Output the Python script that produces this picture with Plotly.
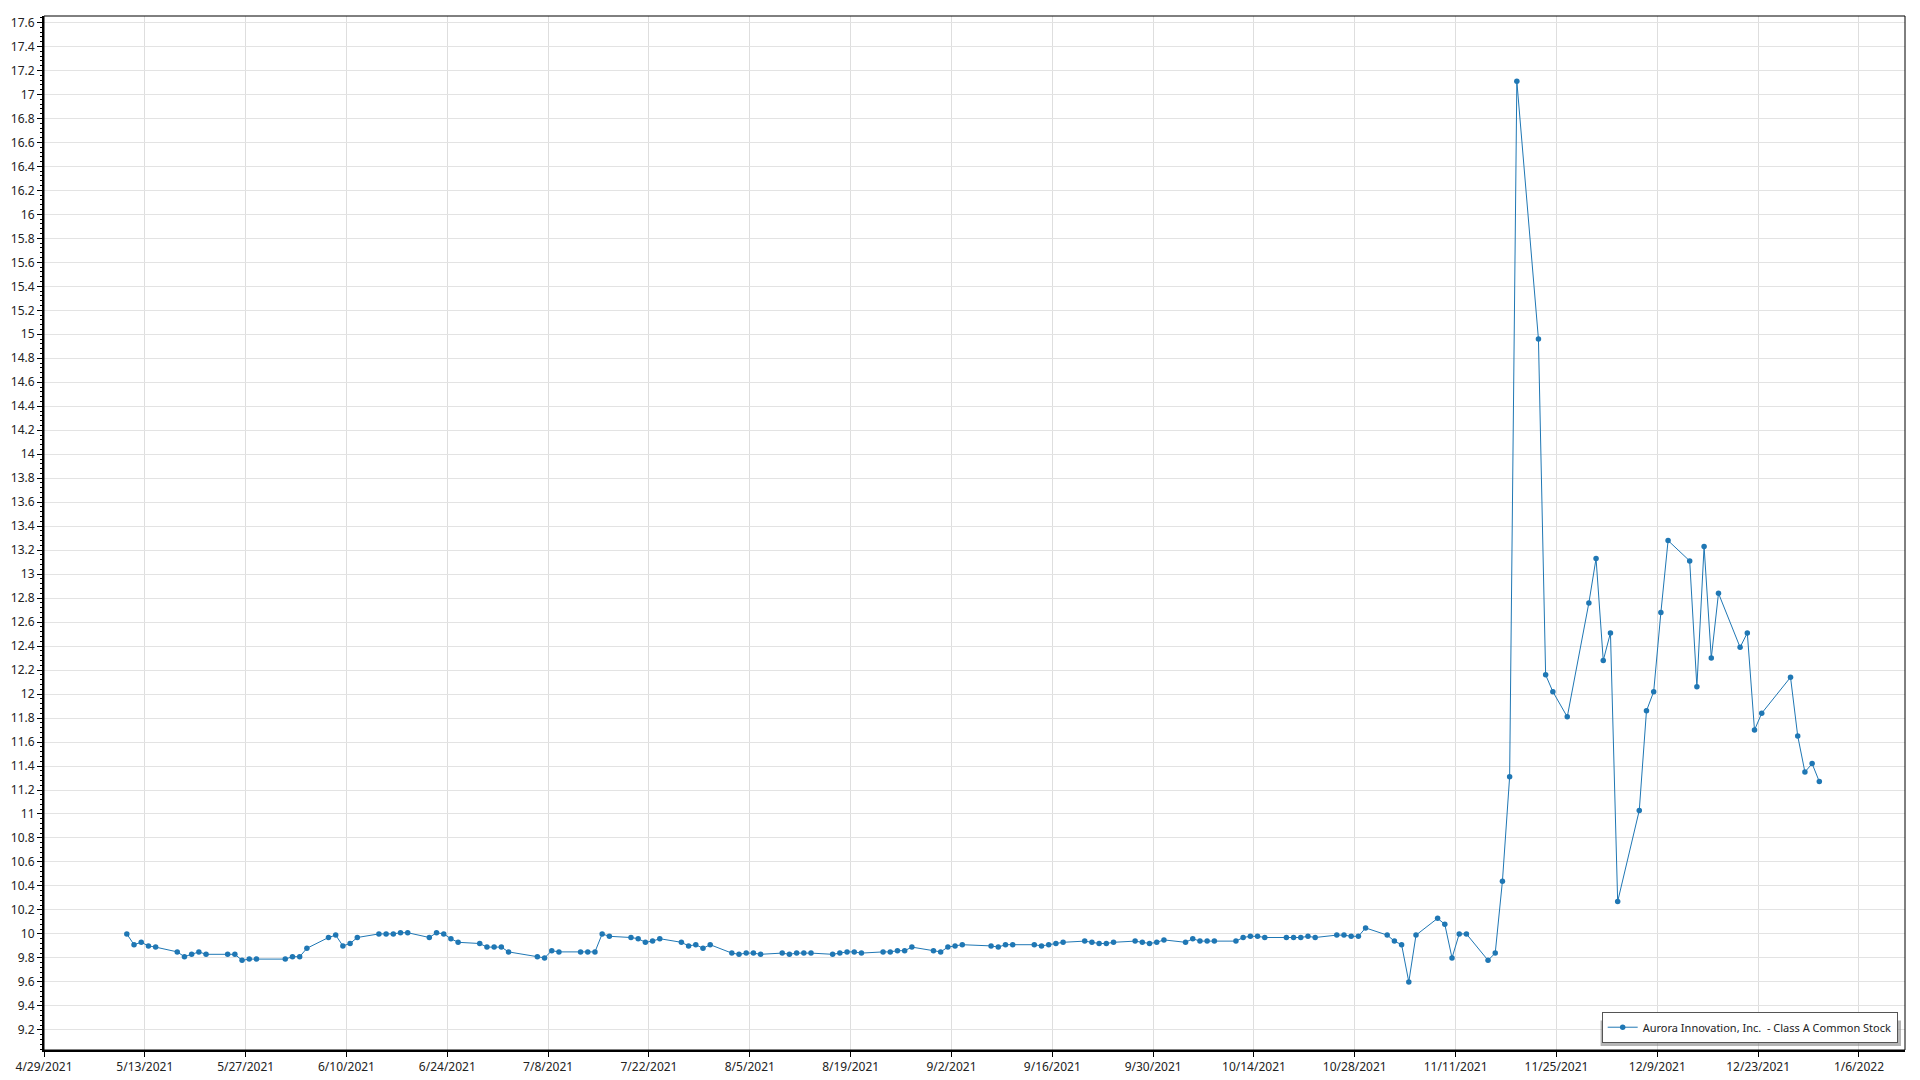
import pandas as pd
import plotly.graph_objects as go

series_name = "Aurora Innovation, Inc.  - Class A Common Stock"

dates = [
    "2021-05-10", "2021-05-11", "2021-05-12", "2021-05-13", "2021-05-14",
    "2021-05-17", "2021-05-18", "2021-05-19", "2021-05-20", "2021-05-21",
    "2021-05-24", "2021-05-25", "2021-05-26", "2021-05-27", "2021-05-28",
    "2021-06-01", "2021-06-02", "2021-06-03", "2021-06-04",
    "2021-06-07", "2021-06-08", "2021-06-09", "2021-06-10", "2021-06-11",
    "2021-06-14", "2021-06-15", "2021-06-16", "2021-06-17", "2021-06-18",
    "2021-06-21", "2021-06-22", "2021-06-23", "2021-06-24", "2021-06-25",
    "2021-06-28", "2021-06-29", "2021-06-30", "2021-07-01", "2021-07-02",
    "2021-07-06", "2021-07-07", "2021-07-08", "2021-07-09",
    "2021-07-12", "2021-07-13", "2021-07-14", "2021-07-15", "2021-07-16",
    "2021-07-19", "2021-07-20", "2021-07-21", "2021-07-22", "2021-07-23",
    "2021-07-26", "2021-07-27", "2021-07-28", "2021-07-29", "2021-07-30",
    "2021-08-02", "2021-08-03", "2021-08-04", "2021-08-05", "2021-08-06",
    "2021-08-09", "2021-08-10", "2021-08-11", "2021-08-12", "2021-08-13",
    "2021-08-16", "2021-08-17", "2021-08-18", "2021-08-19", "2021-08-20",
    "2021-08-23", "2021-08-24", "2021-08-25", "2021-08-26", "2021-08-27",
    "2021-08-30", "2021-08-31", "2021-09-01", "2021-09-02", "2021-09-03",
    "2021-09-07", "2021-09-08", "2021-09-09", "2021-09-10",
    "2021-09-13", "2021-09-14", "2021-09-15", "2021-09-16", "2021-09-17",
    "2021-09-20", "2021-09-21", "2021-09-22", "2021-09-23", "2021-09-24",
    "2021-09-27", "2021-09-28", "2021-09-29", "2021-09-30", "2021-10-01",
    "2021-10-04", "2021-10-05", "2021-10-06", "2021-10-07", "2021-10-08",
    "2021-10-11", "2021-10-12", "2021-10-13", "2021-10-14", "2021-10-15",
    "2021-10-18", "2021-10-19", "2021-10-20", "2021-10-21", "2021-10-22",
    "2021-10-25", "2021-10-26", "2021-10-27", "2021-10-28", "2021-10-29",
    "2021-11-01", "2021-11-02", "2021-11-03", "2021-11-04", "2021-11-05",
    "2021-11-08", "2021-11-09", "2021-11-10", "2021-11-11", "2021-11-12",
    "2021-11-15", "2021-11-16", "2021-11-17", "2021-11-18", "2021-11-19",
    "2021-11-22", "2021-11-23", "2021-11-24", "2021-11-26",
    "2021-11-29", "2021-11-30", "2021-12-01", "2021-12-02", "2021-12-03",
    "2021-12-06", "2021-12-07", "2021-12-08", "2021-12-09", "2021-12-10",
    "2021-12-13", "2021-12-14", "2021-12-15", "2021-12-16", "2021-12-17",
    "2021-12-20", "2021-12-21", "2021-12-22", "2021-12-23",
    "2021-12-27", "2021-12-28", "2021-12-29", "2021-12-30", "2021-12-31",
]

prices = [
    10.00, 9.91, 9.93, 9.90, 9.89,
    9.85, 9.81, 9.83, 9.85, 9.83,
    9.83, 9.83, 9.78, 9.79, 9.79,
    9.79, 9.81, 9.81, 9.88,
    9.97, 9.99, 9.90, 9.92, 9.97,
    10.00, 10.00, 10.00, 10.01, 10.01,
    9.97, 10.01, 10.00, 9.96, 9.93,
    9.92, 9.89, 9.89, 9.89, 9.85,
    9.81, 9.80, 9.86, 9.85,
    9.85, 9.85, 9.85, 10.00, 9.98,
    9.97, 9.96, 9.93, 9.94, 9.96,
    9.93, 9.90, 9.91, 9.88, 9.91,
    9.84, 9.83, 9.84, 9.84, 9.83,
    9.84, 9.83, 9.84, 9.84, 9.84,
    9.83, 9.84, 9.85, 9.85, 9.84,
    9.85, 9.85, 9.86, 9.86, 9.89,
    9.86, 9.85, 9.89, 9.90, 9.91,
    9.90, 9.89, 9.91, 9.91,
    9.91, 9.90, 9.91, 9.92, 9.93,
    9.94, 9.93, 9.92, 9.92, 9.93,
    9.94, 9.93, 9.92, 9.93, 9.95,
    9.93, 9.96, 9.94, 9.94, 9.94,
    9.94, 9.97, 9.98, 9.98, 9.97,
    9.97, 9.97, 9.97, 9.98, 9.97,
    9.99, 9.99, 9.98, 9.98, 10.05,
    9.99, 9.94, 9.91, 9.60, 9.99,
    10.13, 10.08, 9.80, 10.00, 10.00,
    9.78, 9.84, 10.44, 11.31, 17.11,
    14.96, 12.16, 12.02, 11.81,
    12.76, 13.13, 12.28, 12.51, 10.27,
    11.03, 11.86, 12.02, 12.68, 13.28,
    13.11, 12.06, 13.23, 12.30, 12.84,
    12.39, 12.51, 11.70, 11.84,
    12.14, 11.65, 11.35, 11.42, 11.27,
]

# trading-day samples are stamped at mid-day
x_vals = pd.to_datetime(dates) + pd.Timedelta(hours=12)

line_color = "#1f77b4"
font_family = "Noto Sans, Open Sans, DejaVu Sans, sans-serif"

fig = go.Figure()
fig.add_trace(go.Scatter(
    x=x_vals, y=prices, mode="lines+markers", name=series_name,
    line=dict(color=line_color, width=1),
    marker=dict(color=line_color, size=5.5),
))

# the page body has an 8px margin, so the figure is drawn at (8, 8)
OFF = 8
W, H = 1920 - OFF, 1080 - OFF
PL, PR, PT, PB = 43.5, 1905.0, 15.5, 1050.0   # plot area in page pixels
L, T = PL - OFF, PT - OFF
R, B = (OFF + W) - PR, (OFF + H) - PB
pw, ph = PR - PL, PB - PT


def px_x(px):
    return (px - PL) / pw


def px_y(py):
    return (PB - py) / ph


shapes = [
    # legend drop shadow
    dict(type="rect", xref="paper", yref="paper",
         x0=px_x(1600.5), x1=px_x(1901), y0=px_y(1046), y1=px_y(1020.5),
         fillcolor="rgba(120,120,120,0.55)", line=dict(width=0), layer="above"),
    # plot frame
    dict(type="rect", xref="paper", yref="paper", x0=0, x1=1, y0=0, y1=1,
         line=dict(color="black", width=1), layer="above"),
]

fig.update_layout(
    width=W, height=H,
    margin=dict(l=L, r=R, t=T, b=B, pad=0, autoexpand=False),
    paper_bgcolor="white", plot_bgcolor="white",
    font=dict(family=font_family, size=12, color="#222"),
    showlegend=True,
    legend=dict(
        x=px_x(1897.7), y=px_y(1042.7), xanchor="right", yanchor="bottom",
        bgcolor="white", bordercolor="#555", borderwidth=1,
        font=dict(family=font_family, size=11, color="#222"),
        itemwidth=30,
    ),
    shapes=shapes,
    xaxis=dict(
        type="date", automargin=False,
        range=["2021-04-29", "2022-01-12 09:30"],
        tick0="2021-04-29", dtick=14 * 24 * 3600 * 1000,
        tickformat="%-m/%-d/%Y",
        showgrid=True, gridcolor="#dedede", gridwidth=1,
        showline=True, linecolor="black", linewidth=2,
        ticks="outside", ticklen=5, tickcolor="black", tickwidth=1,
        zeroline=False,
        tickfont=dict(size=12),
    ),
    yaxis=dict(
        automargin=False,
        range=[9.032, 17.654],
        tick0=9.2, dtick=0.2,
        showgrid=True, gridcolor="#e3e3e3", gridwidth=1,
        showline=True, linecolor="black", linewidth=2,
        ticks="outside", ticklen=5, tickcolor="black", tickwidth=1,
        minor=dict(ticks="outside", ticklen=2, tickcolor="black", dtick=0.04, showgrid=False),
        zeroline=False,
        tickfont=dict(size=12),
    ),
)

fig.write_html("out.html")
